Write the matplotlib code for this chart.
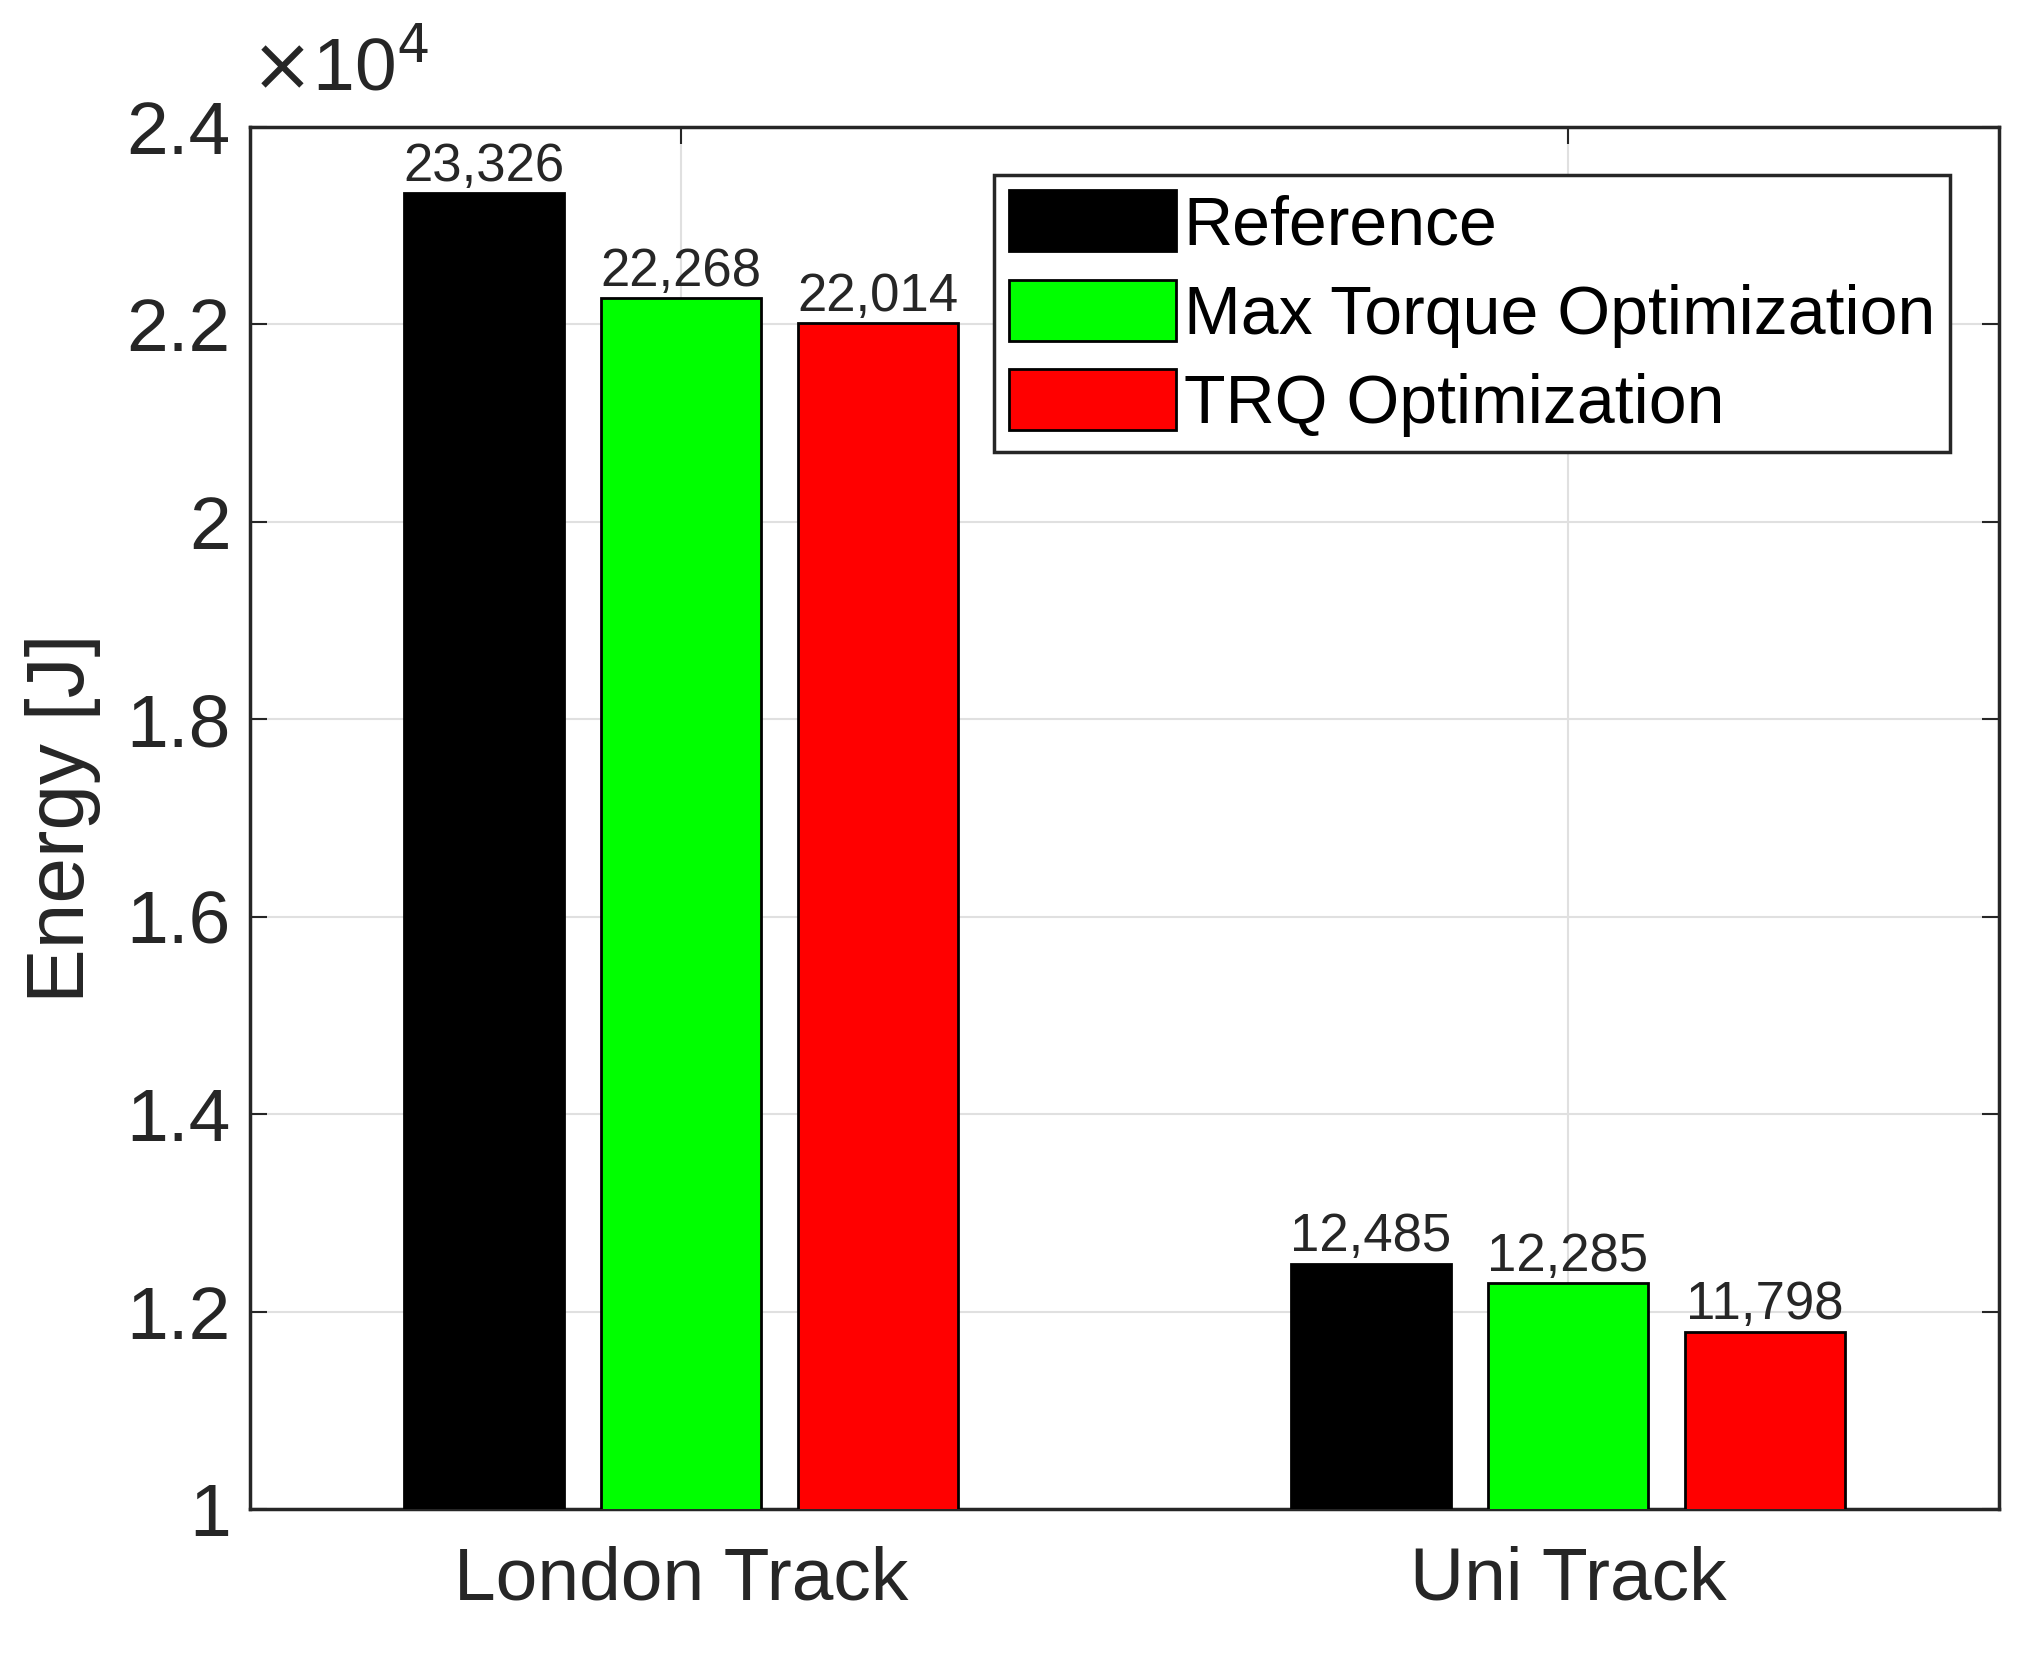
"""Energy per track — grouped bars, MATLAB-style look."""
import matplotlib

matplotlib.use("Agg")
import matplotlib.pyplot as plt  # noqa: E402
import numpy as np  # noqa: E402
from matplotlib.ticker import FuncFormatter, MultipleLocator  # noqa: E402

tracks = ["London Track", "Uni Track"]
series = ["Reference", "Max Torque Optimization", "TRQ Optimization"]
reference = [23326, 12485]
max_torque = [22268, 12285]
trq = [22014, 11798]
colors = ["#000000", "#00ff00", "#ff0000"]

plt.rcParams["font.family"] = ["Liberation Sans", "DejaVu Sans"]
TXT = "#262626"

fig = plt.figure(figsize=(20.35, 16.53), dpi=100)
ax = fig.add_axes([0.1229, 0.0871, 0.8594, 0.8361])

x = np.arange(1, len(tracks) + 1)
width = 0.18
offsets = [-0.222, 0.0, 0.222]
for vals, name, col, off in zip([reference, max_torque, trq], series, colors, offsets):
    bars = ax.bar(x + off, vals, width, color=col, edgecolor="black",
                  linewidth=2, label=name, zorder=3)
    ax.bar_label(bars, labels=[f"{v:,}" for v in vals], padding=1,
                 fontsize=38, color=TXT, zorder=4)

ax.set_xlim(0.514, 2.486)
ax.set_ylim(10000, 24000)
ax.set_xticks(x)
ax.set_xticklabels(tracks)
ax.yaxis.set_major_locator(MultipleLocator(2000))
ax.yaxis.set_major_formatter(FuncFormatter(lambda v, _: f"{v / 1e4:g}"))
ax.tick_params(axis="both", labelsize=54, colors=TXT, direction="in",
               length=12, width=1.5, top=True, right=True, pad=14)
ax.tick_params(axis="x", pad=26)
ax.grid(True, color="#e0e0e0", linewidth=1.5, zorder=0)
for sp in ax.spines.values():
    sp.set_linewidth(2.5)
    sp.set_color(TXT)

ax.set_ylabel("Energy [J]", fontsize=59, color=TXT, labelpad=18)
ax.text(0.0, 1.015, r"$\times$10$^4$", transform=ax.transAxes, fontsize=54,
        color=TXT, ha="left", va="bottom")

leg = ax.legend(loc="upper right", bbox_to_anchor=(0.972, 0.965), fontsize=49,
                handlelength=2.45, handleheight=1.0, handletextpad=0.12,
                labelspacing=0.32, borderpad=0.22, borderaxespad=0.0,
                fancybox=False, framealpha=1, edgecolor=TXT)
leg.get_frame().set_linewidth(2.5)
for t in leg.get_texts():
    t.set_color("black")

fig.savefig("out.png", dpi=100)
plt.close(fig)
